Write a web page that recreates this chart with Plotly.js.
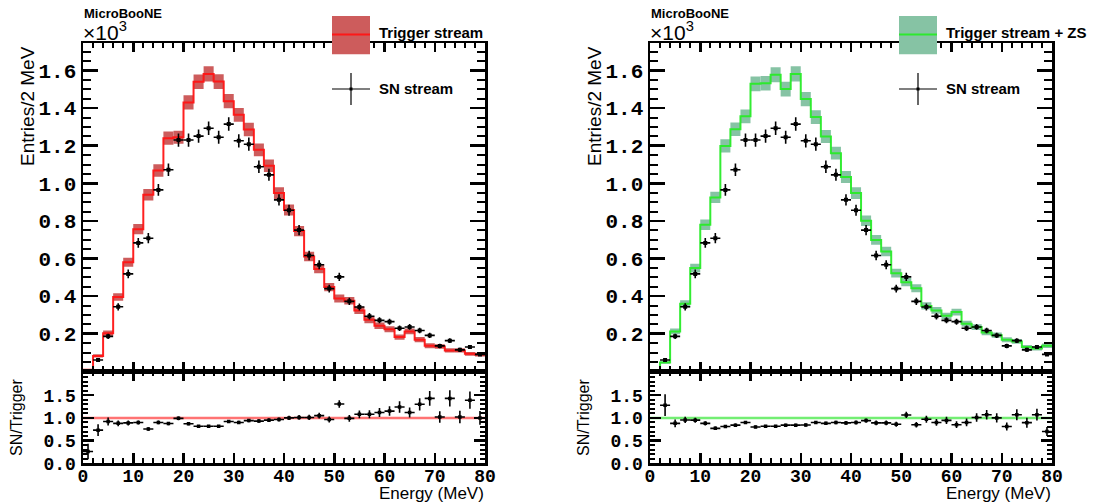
<!DOCTYPE html>
<html>
<head>
<meta charset="utf-8">
<script src="https://cdn.plot.ly/plotly-3.0.1.min.js"></script>
<style>html,body{margin:0;padding:0;background:#fff;}#chart{width:1093px;height:502px;}</style>
</head>
<body>
<div id="chart"></div>
<script>
// Bin centres (MeV), 2 MeV bins from 0 to 80
const energy = [1,3,5,7,9,11,13,15,17,19,21,23,25,27,29,31,33,35,37,39,41,43,45,47,49,51,53,55,57,59,61,63,65,67,69,71,73,75,77,79];

// Entries per 2 MeV (x10^3)
const trigStream = [0.008,0.082,0.203,0.395,0.580,0.756,0.939,1.068,1.240,1.245,1.430,1.540,1.582,1.541,1.437,1.364,1.286,1.178,1.093,0.948,0.858,0.746,0.611,0.544,0.448,0.387,0.375,0.324,0.274,0.242,0.224,0.182,0.212,0.168,0.136,0.132,0.111,0.111,0.093,0.089];
const trigStreamErr = [0.003,0.009,0.014,0.020,0.024,0.027,0.031,0.033,0.035,0.035,0.038,0.039,0.040,0.039,0.038,0.037,0.036,0.034,0.033,0.031,0.029,0.027,0.025,0.023,0.022,0.021,0.020,0.019,0.018,0.017,0.016,0.014,0.015,0.014,0.013,0.012,0.011,0.011,0.010,0.010];

const trigZS = [0.0,0.047,0.212,0.359,0.549,0.779,0.925,1.199,1.288,1.356,1.529,1.532,1.577,1.501,1.582,1.448,1.352,1.249,1.160,1.033,0.948,0.801,0.699,0.637,0.522,0.474,0.442,0.348,0.324,0.295,0.315,0.253,0.235,0.206,0.192,0.168,0.159,0.129,0.121,0.136];
const trigZSErr = [0.0,0.007,0.015,0.019,0.023,0.028,0.030,0.035,0.036,0.037,0.039,0.039,0.040,0.039,0.040,0.038,0.037,0.035,0.034,0.032,0.031,0.028,0.026,0.025,0.023,0.022,0.021,0.019,0.018,0.017,0.018,0.016,0.015,0.014,0.014,0.013,0.013,0.011,0.011,0.012];

const snStream = [0.002,0.060,0.186,0.343,0.518,0.683,0.708,0.965,1.072,1.230,1.230,1.251,1.293,1.245,1.315,1.226,1.208,1.088,1.045,0.912,0.857,0.751,0.616,0.567,0.440,0.502,0.372,0.342,0.293,0.271,0.264,0.229,0.236,0.217,0.191,0.135,0.163,0.114,0.129,0.090];
const snStreamErr = [0.002,0.008,0.014,0.019,0.023,0.026,0.027,0.031,0.033,0.035,0.035,0.035,0.036,0.035,0.036,0.035,0.035,0.033,0.032,0.030,0.029,0.027,0.025,0.024,0.021,0.022,0.019,0.018,0.017,0.016,0.016,0.015,0.015,0.015,0.014,0.012,0.013,0.011,0.011,0.009];

// SN / Trigger ratios
const ratioTrig = [0.26,0.73,0.92,0.88,0.89,0.90,0.755,0.90,0.875,0.99,0.87,0.815,0.815,0.815,0.92,0.90,0.94,0.93,0.95,0.965,1.0,1.01,1.01,1.05,0.965,1.306,0.99,1.08,1.08,1.12,1.15,1.24,1.12,1.30,1.43,1.02,1.43,1.02,1.39,1.0];
const ratioTrigErr = [0.17,0.13,0.09,0.065,0.055,0.045,0.04,0.04,0.035,0.04,0.033,0.03,0.03,0.03,0.035,0.035,0.036,0.038,0.04,0.044,0.048,0.052,0.058,0.063,0.065,0.085,0.075,0.085,0.09,0.10,0.105,0.125,0.11,0.135,0.16,0.125,0.18,0.14,0.19,0.15];
const ratioZS = [null,1.28,0.88,0.955,0.95,0.88,0.77,0.81,0.84,0.90,0.80,0.815,0.815,0.84,0.84,0.845,0.90,0.88,0.90,0.89,0.90,0.94,0.89,0.89,0.86,1.065,0.85,0.97,0.90,0.945,0.85,0.90,1.01,1.07,1.0,0.81,1.07,0.895,1.07,0.70];
const ratioZSErr = [null,0.24,0.085,0.07,0.055,0.045,0.038,0.035,0.034,0.034,0.03,0.03,0.03,0.03,0.03,0.032,0.034,0.036,0.038,0.04,0.043,0.047,0.05,0.053,0.055,0.068,0.06,0.075,0.075,0.08,0.075,0.085,0.095,0.105,0.10,0.09,0.12,0.11,0.13,0.10];

// Tick labels
const mainYTickVals = [0.2,0.4,0.6,0.8,1.0,1.2,1.4,1.6];
const mainYTickText = ["0.2","0.4","0.6","0.8","1.0","1.2","1.4","1.6"];
const ratioYTickVals = [0,0.5,1.0,1.5];
const ratioYTickText = ["0.0","0.5","1.0","1.5"];
const xTickVals = [0,10,20,30,40,50,60,70,80];
const xTickText = ["0","10","20","30","40","50","60","70","80"];

const W = 1093, H = 502;
const px = v => v / W;
const py = v => 1 - v / H;

const panels = [
  {x0: 83, x1: 485, vals: trigStream, errs: trigStreamErr, ratio: ratioTrig, rerr: ratioTrigErr,
   band: '#CD5C5C', line: 'rgba(255,20,20,0.95)', one: 'rgba(255,90,90,0.85)', label: 'Trigger stream',
   xm: 'x', ym: 'y', xr: 'x2', yr: 'y2'},
  {x0: 650, x1: 1052, vals: trigZS, errs: trigZSErr, ratio: ratioZS, rerr: ratioZSErr,
   band: '#86C3A4', line: 'rgba(40,235,40,0.95)', one: 'rgba(90,235,90,0.85)', label: 'Trigger stream + ZS',
   xm: 'x3', ym: 'y3', xr: 'x4', yr: 'y4'}
];

const MAIN_TOP = 43.3, SPLIT = 371.3, RATIO_BOT = 463.3;
const mono = {family: 'Liberation Mono, Courier New, monospace', size: 21, color: '#000', weight: 'bold'};
const monoR = {family: 'Liberation Mono, Courier New, monospace', size: 18, color: '#000', weight: 'bold'};

const traces = [];
const layout = {
  width: W, height: H,
  margin: {l: 0, r: 0, t: 0, b: 0, pad: 0},
  paper_bgcolor: '#fff', plot_bgcolor: '#fff',
  showlegend: false, barmode: 'overlay',
  shapes: [], annotations: []
};

function axisCommon(extra) {
  return Object.assign({
    showline: true, linecolor: '#000', linewidth: 2.5, mirror: 'ticks',
    ticks: 'inside', tickcolor: '#000', tickwidth: 2.5,
    showgrid: false, zeroline: false, fixedrange: true, automargin: false
  }, extra);
}

panels.forEach((p, k) => {
  const n = k * 2;
  const xm = n === 0 ? 'xaxis' : 'xaxis' + (n + 1);
  const ym = n === 0 ? 'yaxis' : 'yaxis' + (n + 1);
  const xr = 'xaxis' + (n + 2);
  const yr = 'yaxis' + (n + 2);
  const dom = [px(p.x0), px(p.x1)];

  layout[xm] = axisCommon({domain: dom, anchor: p.ym, range: [0, 80], showticklabels: false,
    tickmode: 'array', tickvals: xTickVals, ticklen: 9,
    minor: {tickmode: 'linear', tick0: 0, dtick: 2, ticks: 'inside', ticklen: 5, tickwidth: 2, tickcolor: '#000'}});
  layout[ym] = axisCommon({domain: [py(SPLIT), py(MAIN_TOP)], anchor: p.xm, range: [0, (SPLIT - MAIN_TOP) / 188],
    tickmode: 'array', tickvals: mainYTickVals, ticktext: mainYTickText, ticklen: 15, tickfont: mono,
    ticklabelstandoff: 0,
    minor: {tickmode: 'linear', tick0: 0, dtick: 0.05, ticks: 'inside', ticklen: 8, tickwidth: 2, tickcolor: '#000'}});
  layout[xr] = axisCommon({domain: dom, anchor: p.yr, range: [0, 80],
    tickmode: 'array', tickvals: xTickVals, ticktext: xTickText, ticklen: 10, tickfont: monoR,
    ticklabelstandoff: -5,
    minor: {tickmode: 'linear', tick0: 0, dtick: 2, ticks: 'inside', ticklen: 5, tickwidth: 2, tickcolor: '#000'}});
  layout[yr] = axisCommon({domain: [py(RATIO_BOT), py(SPLIT)], anchor: p.xr, range: [0, (RATIO_BOT - SPLIT) / 45.4],
    tickmode: 'array', tickvals: ratioYTickVals, ticktext: ratioYTickText, ticklen: 11, tickfont: monoR,
    ticklabelstandoff: 1,
    minor: {tickmode: 'linear', tick0: 0, dtick: 0.1, ticks: 'inside', ticklen: 5, tickwidth: 2, tickcolor: '#000'}});

  // uncertainty band
  traces.push({type: 'bar', x: energy, y: p.errs.map(e => 2 * e), base: p.vals.map((v, i) => v - p.errs[i]),
    width: 2, marker: {color: p.band, line: {width: 0}}, xaxis: p.xm, yaxis: p.ym, hoverinfo: 'skip'});
  // histogram step line
  const edges = energy.map(e => e - 1).concat([energy[energy.length - 1] + 1]);
  traces.push({type: 'scatter', mode: 'lines', x: edges, y: p.vals.concat([p.vals[p.vals.length - 1]]),
    line: {shape: 'hv', color: p.line, width: 2}, xaxis: p.xm, yaxis: p.ym, hoverinfo: 'skip'});
  // SN stream points
  traces.push({type: 'scatter', mode: 'markers', x: energy, y: snStream,
    marker: {symbol: 'square', size: 4, color: '#000'},
    error_x: {type: 'constant', value: 1, width: 0, thickness: 1.6, color: '#000'},
    error_y: {type: 'data', array: snStreamErr, visible: true, width: 0, thickness: 1.6, color: '#000'},
    xaxis: p.xm, yaxis: p.ym, hoverinfo: 'skip'});
  // ratio points
  traces.push({type: 'scatter', mode: 'markers', x: energy, y: p.ratio,
    marker: {symbol: 'square', size: 3.5, color: '#000'},
    error_x: {type: 'constant', value: 1, width: 0, thickness: 1.6, color: '#000'},
    error_y: {type: 'data', array: p.rerr, visible: true, width: 0, thickness: 1.6, color: '#000'},
    xaxis: p.xr, yaxis: p.yr, hoverinfo: 'skip'});

  // unity line in ratio
  layout.shapes.push({type: 'line', xref: p.xr + ' domain', yref: p.yr, x0: 0, x1: 1, y0: 1, y1: 1,
    line: {color: p.one, width: 2.5}, layer: 'below'});

  // legend drawing
  const lx0 = p.x0 + 249, lx1 = p.x0 + 287;
  layout.shapes.push({type: 'rect', xref: 'paper', yref: 'paper', x0: px(lx0), x1: px(lx1), y0: py(54.3), y1: py(16),
    fillcolor: p.band, line: {width: 0}});
  layout.shapes.push({type: 'line', xref: 'paper', yref: 'paper', x0: px(lx0), x1: px(lx1), y0: py(34.5), y1: py(34.5),
    line: {color: p.line, width: 2}});
  layout.shapes.push({type: 'line', xref: 'paper', yref: 'paper', x0: px(lx0), x1: px(lx1), y0: py(89), y1: py(89),
    line: {color: '#000', width: 1.2}});
  layout.shapes.push({type: 'line', xref: 'paper', yref: 'paper', x0: px((lx0 + lx1) / 2), x1: px((lx0 + lx1) / 2), y0: py(73), y1: py(105),
    line: {color: '#000', width: 1.2}});
  layout.shapes.push({type: 'rect', xref: 'paper', yref: 'paper', x0: px((lx0 + lx1) / 2 - 1.5), x1: px((lx0 + lx1) / 2 + 1.5), y0: py(90.5), y1: py(87.5),
    fillcolor: '#000', line: {width: 0}});

  const sans = 'Liberation Sans, Arial, sans-serif';
  layout.annotations.push(
    {xref: 'paper', yref: 'paper', x: px(lx1 + 7), y: py(33), xanchor: 'left', yanchor: 'middle', showarrow: false,
      text: '<b>' + p.label + '</b>', font: {family: sans, size: 15, color: '#000'}},
    {xref: 'paper', yref: 'paper', x: px(lx1 + 7), y: py(88), xanchor: 'left', yanchor: 'middle', showarrow: false,
      text: '<b>SN stream</b>', font: {family: sans, size: 15, color: '#000'}},
    {xref: 'paper', yref: 'paper', x: px(p.x0 - 1), y: py(13.5), xanchor: 'left', yanchor: 'middle', showarrow: false,
      text: '<b>MicroBooNE</b>', font: {family: sans, size: 13, color: '#000'}},
    {xref: 'paper', yref: 'paper', x: px(p.x0 - 2), y: py(46), xanchor: 'left', yanchor: 'bottom', showarrow: false,
      text: '×10<sup>3</sup>', font: {family: sans, size: 21, color: '#000'}},
    {xref: 'paper', yref: 'paper', x: px(p.x0 - 56), y: py(44), xanchor: 'center', yanchor: 'top', showarrow: false,
      textangle: -90, text: 'Entries/2 MeV', font: {family: sans, size: 19, color: '#000'}},
    {xref: 'paper', yref: 'paper', x: px(p.x0 - 67), y: py(418), xanchor: 'center', yanchor: 'middle', showarrow: false,
      textangle: -90, text: 'SN/Trigger', font: {family: sans, size: 16, color: '#000'}},
    {xref: 'paper', yref: 'paper', x: px(p.x1 + 1), y: py(493), xanchor: 'right', yanchor: 'middle', showarrow: false,
      text: 'Energy (MeV)', font: {family: sans, size: 17, color: '#000'}}
  );
});

Plotly.newPlot('chart', traces, layout, {staticPlot: true, displayModeBar: false});
</script>
</body>
</html>
